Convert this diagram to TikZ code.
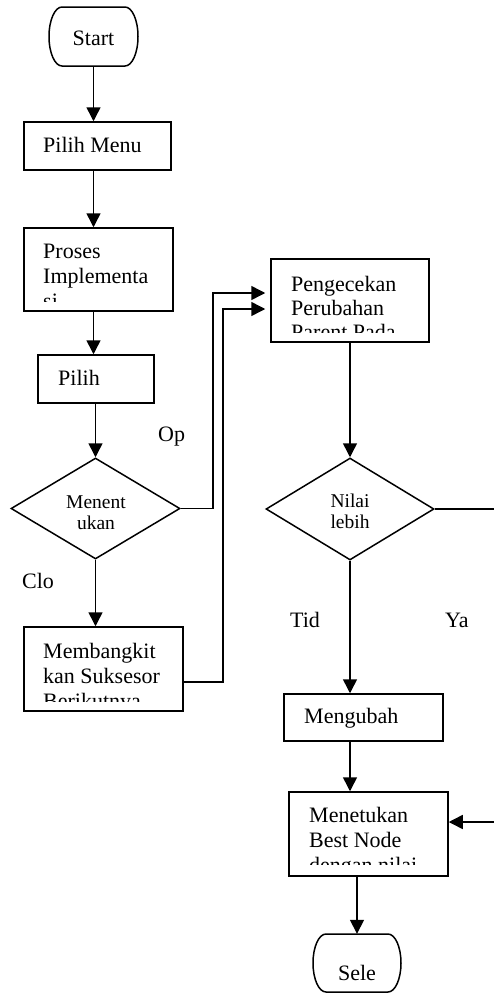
\documentclass[tikz,border=0pt]{standalone}
\usepackage{fontspec}
\setmainfont{Liberation Serif}
\usetikzlibrary{arrows.meta,shapes.geometric}
\begin{document}
\begin{tikzpicture}[x=1pt,y=-1pt,
  lw/.style={line width=1.5pt},
  box/.style={lw, draw, rectangle, inner sep=0pt},
  termshape/.style={rectangle, inner sep=0pt},
  dec/.style={lw, draw, diamond, inner sep=0pt},
  arr/.style={lw, -{Triangle[length=14pt,width=14pt]}},
  txt/.style={anchor=base west, inner sep=0pt, font=\fontsize{22}{25}\selectfont},
  ctxt/.style={anchor=base, inner sep=0pt, font=\fontsize{22}{25}\selectfont},
  stxt/.style={anchor=base, inner sep=0pt, font=\fontsize{19.5}{22}\selectfont},
]
\useasboundingbox (0,0) rectangle (494,993);
\clip (0,0) rectangle (494,993);

% shapes
\node[termshape, minimum width=89pt, minimum height=59pt] (st) at (93.5,36.5) {};
\draw[lw] (62,7) -- (125,7) .. controls (132.2,7) and (138,20.2) .. (138,36.5)
  .. controls (138,52.8) and (132.2,66) .. (125,66) -- (62,66)
  .. controls (54.8,66) and (49,52.8) .. (49,36.5)
  .. controls (49,20.2) and (54.8,7) .. (62,7) -- cycle;
\node[box, minimum width=147pt, minimum height=48pt] (pm) at (97.5,146) {};
\node[box, minimum width=149pt, minimum height=83pt] (pr) at (98.5,269.5) {};
\node[box, minimum width=116pt, minimum height=48pt] (pl) at (96,379) {};
\node[dec, minimum width=169pt, minimum height=101pt] (d1) at (95.5,508.5) {};
\node[box, minimum width=159pt, minimum height=84pt] (mb) at (103.5,669) {};
\node[box, minimum width=158pt, minimum height=83pt] (pc) at (350,300.5) {};
\node[dec, minimum width=168pt, minimum height=102pt] (d2) at (350,509) {};
\node[box, minimum width=159pt, minimum height=47pt] (mg) at (363.5,717.5) {};
\node[box, minimum width=159pt, minimum height=84pt] (mt) at (368.5,834) {};
\node[termshape, minimum width=88pt, minimum height=58pt] (se) at (357,963) {};
\draw[lw] (326,934) -- (388,934) .. controls (395.2,934) and (401,947) .. (401,963)
  .. controls (401,979) and (395.2,992) .. (388,992) -- (326,992)
  .. controls (318.8,992) and (313,979) .. (313,963)
  .. controls (313,947) and (318.8,934) .. (326,934) -- cycle;

% texts
\node[ctxt] (tst) at (93.5,45) {Start};
\node[txt] (tpm) at (43,152) {Pilih Menu};
\begin{scope}
  \clip (25,229) rectangle (172,301);
  \node[txt] (tpr1) at (43,258) {Proses};
  \node[txt] (tpr2) at (43,283) {Implementa};
  \node[txt] (tpr3) at (43,308) {si};
\end{scope}
\node[txt] (tpl) at (58,385) {Pilih};
\node[stxt] (td1a) at (96,508) {Menent};
\node[stxt] (td1b) at (96,529) {ukan};
\node[txt] (top) at (158,441) {Op};
\node[txt] (tclo) at (22,588) {Clo};
\begin{scope}
  \clip (25,628) rectangle (182,701.5);
  \node[txt] (tmb1) at (43,658) {Membangkit};
  \node[txt] (tmb2) at (43,683) {kan Suksesor};
  \node[txt] (tmb3) at (43,708) {Berikutnya};
\end{scope}
\begin{scope}
  \clip (272,260) rectangle (428,332);
  \node[txt] (tpc1) at (291,291) {Pengecekan};
  \node[txt] (tpc2) at (291,315) {Perubahan};
  \node[txt] (tpc3) at (291,339) {Parent Pada};
\end{scope}
\node[stxt] (td2a) at (350,507) {Nilai};
\node[stxt] (td2b) at (350,528) {lebih};
\node[txt] (ttid) at (290,627) {Tid};
\node[txt] (tya) at (445,627) {Ya};
\node[txt] (tmg) at (304,723) {Mengubah};
\begin{scope}
  \clip (290,793) rectangle (447,864.5);
  \node[txt] (tmt1) at (309,822) {Menetukan};
  \node[txt] (tmt2) at (309,847) {Best Node};
  \node[txt] (tmt3) at (309,872) {dengan nilai};
\end{scope}
\node[ctxt] (tse) at (357,980) {Sele};

% connector bend points
\coordinate (o1) at (213,293);
\coordinate (o2a) at (223,682);
\coordinate (o2) at (223,309);
\coordinate (r1) at (505,509);
\coordinate (r2) at (505,822);

% connectors
\draw[arr] (st.south) -- (st.south |- pm.north);
\draw[arr] (st.south |- pm.south) -- (st.south |- pr.north);
\draw[arr] (st.south |- pr.south) -- (st.south |- pl.north);
\draw[arr] (d1.north |- pl.south) -- (d1.north);
\draw[arr] (d1.south) -- (d1.south |- mb.north);
\draw[arr, shorten >=5pt] (d1.east) -| (o1) -- (o1 -| pc.west);
\draw[arr, shorten >=5pt] (o2a -| mb.east) -- (o2a) -- (o2) -- (o2 -| pc.west);
\draw[arr] (pc.south) -- (d2.north);
\draw[arr] (d2.south) -- (d2.south |- mg.north);
\draw[arr] (d2.south |- mg.south) -- (d2.south |- mt.north);
\draw[lw] (d2.east) -- (r1) -- (r2);
\draw[arr] (r2) -- (r2 -| mt.east);
\draw[arr] (se.north |- mt.south) -- (se.north);
\end{tikzpicture}
\end{document}
